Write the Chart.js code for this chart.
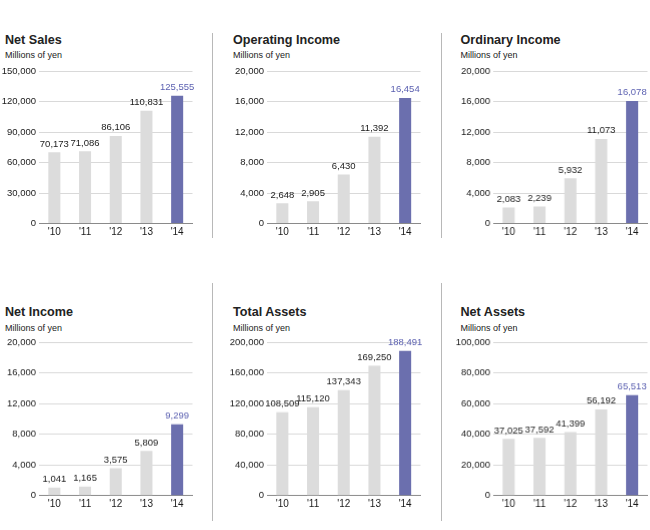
<!DOCTYPE html>
<html>
<head>
<meta charset="utf-8">
<script src="https://cdn.jsdelivr.net/npm/chart.js@4.4.0/dist/chart.umd.min.js"></script>
<style>
  html, body { margin: 0; padding: 0; background: #fff; }
  body { width: 650px; height: 530px; position: relative; overflow: hidden;
         font-family: "Liberation Sans", Arial, Helvetica, sans-serif; color: #1a1a1a; }
  .title { position: absolute; font-weight: bold; font-size: 12.6px; line-height: 16px; white-space: nowrap; color: #222; }
  .sub { position: absolute; font-size: 9px; line-height: 12px; white-space: nowrap; color: #222; }
  .sep { position: absolute; width: 1px; background: #b8b8b8; }
  canvas { position: absolute; }
</style>
</head>
<body>
<div class="sep" style="left:212px; top:33px; height:205px;"></div>
<div class="sep" style="left:441px; top:33px; height:205px;"></div>
<div class="sep" style="left:212px; top:283px; height:238px;"></div>
<div class="sep" style="left:441px; top:283px; height:238px;"></div>
<script>
const years = ["'10", "'11", "'12", "'13", "'14"];

const titles = ["Net Sales", "Operating Income", "Ordinary Income", "Net Income", "Total Assets", "Net Assets"];
const unitLabel = "Millions of yen";

const netSales        = [70173, 71086, 86106, 110831, 125555];
const operatingIncome = [2648, 2905, 6430, 11392, 16454];
const ordinaryIncome  = [2083, 2239, 5932, 11073, 16078];
const netIncome       = [1041, 1165, 3575, 5809, 9299];
const totalAssets     = [108509, 115120, 137343, 169250, 188491];
const netAssets       = [37025, 37592, 41399, 56192, 65513];

const axisMax  = [150000, 20000, 20000, 20000, 200000, 100000];
const axisStep = [30000, 4000, 4000, 4000, 40000, 20000];

const seriesList = [netSales, operatingIncome, ordinaryIncome, netIncome, totalAssets, netAssets];

const GRAY = '#dcdcdc';
const PURPLE = '#6b6fae';
const PURPLE_TEXT = '#5a5fb0';

// layout
const colAxisLeft = [38.5, 266.5, 493];
const colTitleX = [5, 233, 460.5];
const rowGridTop = [70.5, 342.3];
const rowGridBottom = [223, 495];
const rowTitleY = [40, 312];
const rowSubY = [55, 327.7];
const axisW = 153.5;
const yAxisW = 45;
const padTop = 10;
const xAxisH = 20;

const fmt = v => v.toLocaleString('en-US');

const valueLabels = {
  id: 'valueLabels',
  afterDatasetsDraw(chart) {
    const ctx = chart.ctx;
    const meta = chart.getDatasetMeta(0);
    const data = chart.data.datasets[0].data;
    ctx.save();
    ctx.font = '9.5px "Liberation Sans", Arial, sans-serif';
    ctx.textAlign = 'center';
    ctx.textBaseline = 'bottom';
    meta.data.forEach((bar, i) => {
      ctx.fillStyle = (i === data.length - 1) ? PURPLE_TEXT : '#1a1a1a';
      ctx.fillText(fmt(data[i]), bar.x, bar.y - 3.5);
    });
    ctx.restore();
  }
};

seriesList.forEach((series, idx) => {
  const col = idx % 3, row = Math.floor(idx / 3);
  const t = document.createElement('div');
  t.className = 'title';
  t.textContent = titles[idx];
  t.style.left = colTitleX[col] + 'px';
  t.style.top = (rowTitleY[row] - 8) + 'px';
  document.body.appendChild(t);
  const s = document.createElement('div');
  s.className = 'sub';
  s.textContent = unitLabel;
  s.style.left = colTitleX[col] + 'px';
  s.style.top = (rowSubY[row] - 6) + 'px';
  document.body.appendChild(s);

  const plotH = rowGridBottom[row] - rowGridTop[row];
  const cv = document.createElement('canvas');
  const w = yAxisW + axisW + 2;
  const h = padTop + plotH + xAxisH;
  const wrap = document.createElement('div');
  wrap.style.position = 'absolute';
  wrap.style.left = (colAxisLeft[col] - yAxisW) + 'px';
  wrap.style.top = (rowGridTop[row] - padTop) + 'px';
  wrap.style.width = w + 'px';
  wrap.style.height = h + 'px';
  cv.style.left = '0px'; cv.style.top = '0px';
  wrap.appendChild(cv);
  document.body.appendChild(wrap);

  new Chart(cv, {
    type: 'bar',
    data: {
      labels: years,
      datasets: [{
        data: series,
        backgroundColor: series.map((v, i) => i === series.length - 1 ? PURPLE : GRAY),
        borderWidth: 0,
        categoryPercentage: 0.8,
        barPercentage: 0.49
      }]
    },
    options: {
      responsive: true,
      maintainAspectRatio: false,
      animation: false,
      events: [],
      layout: { padding: { top: padTop, right: 2, left: 0, bottom: 0 } },
      plugins: { legend: { display: false }, tooltip: { enabled: false }, title: { display: false } },
      scales: {
        x: {
          grid: { display: false, drawTicks: false },
          border: { display: true, color: '#8a8a8a', width: 1 },
          ticks: { color: '#1a1a1a', font: { size: 10, family: '"Liberation Sans", Arial, sans-serif' }, padding: 3, maxRotation: 0 },
          afterFit: sc => { sc.height = xAxisH; }
        },
        y: {
          min: 0, max: axisMax[idx],
          grid: { color: '#d9d9d9', lineWidth: 1, drawTicks: false },
          border: { display: false },
          ticks: {
            stepSize: axisStep[idx], padding: 3, color: '#1a1a1a',
            font: { size: 9.5, family: '"Liberation Sans", Arial, sans-serif' },
            callback: v => fmt(v)
          },
          afterFit: sc => { sc.width = yAxisW; }
        }
      }
    },
    plugins: [valueLabels]
  });
});
</script>
</body>
</html>
